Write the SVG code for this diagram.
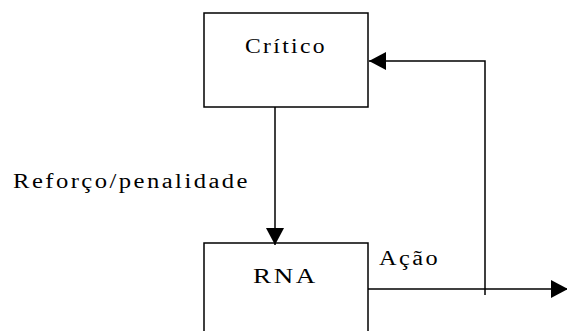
<svg xmlns="http://www.w3.org/2000/svg" width="567" height="331" viewBox="0 0 567 331">
  <style>
    .box { fill: #ffffff; stroke: #000000; stroke-width: 1.5; }
    .wire { fill: none; stroke: #000000; stroke-width: 1.5; }
    .lbl { font-family: "Liberation Serif", "Times New Roman", serif; font-size: 20px; letter-spacing: 2px; fill: #000000; }
  </style>
  <defs>
    <marker id="arrow" viewBox="0 0 17 18" refX="17" refY="9" markerWidth="17" markerHeight="18" markerUnits="userSpaceOnUse" orient="auto">
      <path d="M0,0 L17,9 L0,18 Z" fill="#000000"/>
    </marker>
  </defs>
  <rect width="567" height="331" fill="#ffffff"/>

  <g id="critico">
    <rect class="box" x="204" y="13" width="164" height="94"/>
    <text class="lbl" x="245" y="53" textLength="82" lengthAdjust="spacingAndGlyphs">Crítico</text>
  </g>

  <g id="rna">
    <rect class="box" x="204" y="243" width="164" height="100"/>
    <text class="lbl" x="253" y="283" textLength="65" lengthAdjust="spacingAndGlyphs">RNA</text>
  </g>

  <g id="connectors">
    <!-- reinforcement signal from critic to network -->
    <path class="wire" d="M275,107 L275,245" marker-end="url(#arrow)"/>
    <!-- action output, fed back to critic -->
    <path class="wire" d="M368,289 L568,289" marker-end="url(#arrow)"/>
    <path class="wire" d="M485,295 L485,61 L369,61" marker-end="url(#arrow)"/>
  </g>

  <g id="labels">
    <text class="lbl" x="13" y="188" textLength="237" lengthAdjust="spacingAndGlyphs">Reforço/penalidade</text>
    <text class="lbl" x="379" y="265" textLength="61" lengthAdjust="spacingAndGlyphs">Ação</text>
  </g>
</svg>
